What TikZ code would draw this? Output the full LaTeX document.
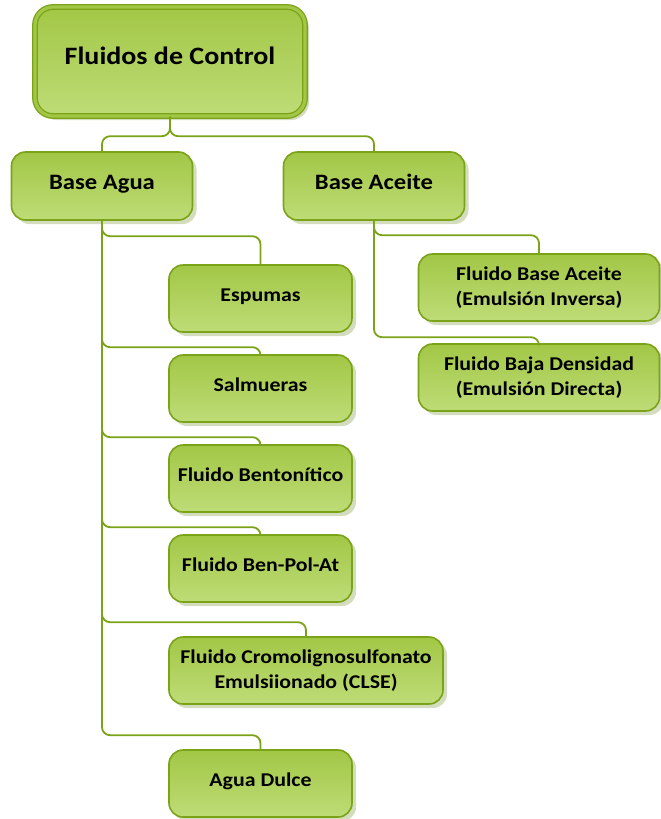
\documentclass[tikz,border=0pt]{standalone}
\usepackage{fontspec}
\setmainfont[FakeStretch=1.12]{Carlito}
\usetikzlibrary{shadows}
\definecolor{boxdark}{HTML}{A2C746}
\definecolor{boxlight}{HTML}{BEDC77}
\definecolor{boxline}{HTML}{7BA318}
\definecolor{boxshade}{HTML}{D3DCBC}
\tikzset{
  box/.style={rectangle,rounded corners=14pt,draw=boxline,line width=1.6pt,
    top color=boxdark,bottom color=boxlight,align=center,inner sep=2pt,
    drop shadow={shadow xshift=4pt,shadow yshift=-4pt,fill=boxshade,opacity=1},
    font=\fontsize{19.5}{25}\selectfont\bfseries,minimum height=67pt},
  single/.style={text height=1.4ex,text depth=0pt},
  head box/.style={box,single,minimum width=181pt,minimum height=68pt,
    font=\fontsize{22}{26}\selectfont\bfseries},
  root box/.style={box,single,minimum width=270pt,minimum height=109pt,rounded corners=18pt,
    double=boxdark,double distance=3.2pt,line width=1.3pt,
    font=\fontsize{25}{30}\selectfont\bfseries},
  link/.style={draw=boxline,line width=1.8pt,rounded corners=8pt}
}
\begin{document}
\begin{tikzpicture}[x=1pt,y=-1pt]
  \useasboundingbox (0,0) rectangle (661,819);
  \node[root box] (root) at (170,61.5) {Fluidos de Control};
  \node[head box] (agua) at (102,186) {Base Agua};
  \node[head box] (aceite) at (374,186) {Base Aceite};
  \node[box,minimum width=241pt] (inversa) at (539,287.5) {Fluido Base Aceite\\(Emulsión Inversa)};
  \node[box,minimum width=241pt] (directa) at (539,377.5) {Fluido Baja Densidad\\(Emulsión Directa)};
  \node[box,single,minimum width=183pt] (espumas) at (260.5,298.5) {Espumas};
  \node[box,single,minimum width=183pt] (salmueras) at (260.5,388.5) {Salmueras};
  \node[box,single,minimum width=183pt] (bentonitico) at (260.5,478.5) {Fluido Bentonítico};
  \node[box,single,minimum width=183pt] (benpol) at (260.5,568.5) {Fluido Ben-Pol-At};
  \node[box,minimum width=274pt] (clse) at (306,670.5) {Fluido Cromolignosulfonato\\Emulsiionado (CLSE)};
  \node[box,single,minimum width=183pt] (dulce) at (260.5,783.5) {Agua Dulce};
  \draw[link] (root.south) |- ([yshift=15pt]agua.north) -- (agua.north);
  \draw[link] (root.south) |- ([yshift=15pt]aceite.north) -- (aceite.north);
  \draw[link] (aceite.south) |- ([yshift=18pt]inversa.north) -- (inversa.north);
  \draw[link] (aceite.south) |- ([yshift=6pt]directa.north) -- (directa.north);
  \draw[link] (agua.south) |- ([yshift=28pt]espumas.north) -- (espumas.north);
  \draw[link] (agua.south) |- ([yshift=7pt]salmueras.north) -- (salmueras.north);
  \draw[link] (agua.south) |- ([yshift=7pt]bentonitico.north) -- (bentonitico.north);
  \draw[link] (agua.south) |- ([yshift=7pt]benpol.north) -- (benpol.north);
  \draw[link] (agua.south) |- ([yshift=14pt]clse.north) -- (clse.north);
  \draw[link] (agua.south) |- ([yshift=14pt]dulce.north) -- (dulce.north);
\end{tikzpicture}
\end{document}
